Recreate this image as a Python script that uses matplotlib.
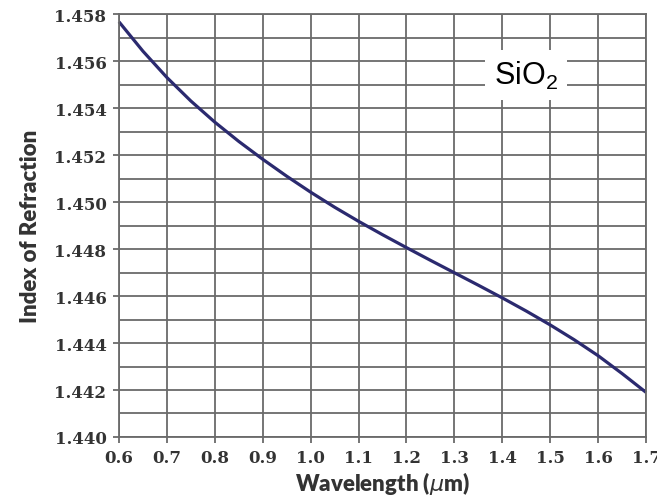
import matplotlib.pyplot as plt
import numpy as np

# wavelength (um) and refractive index of SiO2
wavelength = [0.60, 0.65, 0.70, 0.75, 0.80, 0.85, 0.90, 0.95, 1.00, 1.05, 1.10, 1.15,
              1.20, 1.25, 1.30, 1.35, 1.40, 1.45, 1.50, 1.55, 1.60, 1.65, 1.70]
index = [1.45767, 1.45642, 1.45530, 1.45430, 1.45340, 1.45258, 1.45182, 1.45110,
         1.45042, 1.44978, 1.44918, 1.44861, 1.44806, 1.44752, 1.44699, 1.44646,
         1.44592, 1.44536, 1.44477, 1.44414, 1.44346, 1.44270, 1.44190]

x_ticks = [0.6, 0.7, 0.8, 0.9, 1.0, 1.1, 1.2, 1.3, 1.4, 1.5, 1.6, 1.7]
y_ticks = [1.440, 1.442, 1.444, 1.446, 1.448, 1.450, 1.452, 1.454, 1.456, 1.458]

plt.rcParams['mathtext.default'] = 'regular'

fig = plt.figure(figsize=(6.57, 5.02), dpi=100)
ax = fig.add_axes([0.1811, 0.1275, 0.8022, 0.8425])

grid_col = '#6a6a6a'
ax.set_xlim(0.6, 1.7)
ax.set_ylim(1.440, 1.458)
ax.set_xticks(x_ticks)
ax.set_yticks(y_ticks)
ax.set_yticks(np.arange(1.441, 1.458, 0.002), minor=True)
ax.grid(True, which='both', color=grid_col, linewidth=1.3)
ax.tick_params(which='minor', left=False)
ax.set_axisbelow(True)
for s in ax.spines.values():
    s.set_color(grid_col)
    s.set_linewidth(1.3)

ax.plot(wavelength, index, color='#2b2a6f', linewidth=2.3, solid_capstyle='butt', clip_on=False)

ax.tick_params(axis='both', which='major', direction='out', color=grid_col, width=1.3, length=4,
               labelcolor='#333333', pad=5)
ax.set_xticklabels([f'{v:.1f}' for v in x_ticks])
ax.set_yticklabels([f'{v:.3f}' for v in y_ticks])
for lab in ax.get_xticklabels() + ax.get_yticklabels():
    lab.set_fontfamily('DejaVu Serif')
    lab.set_fontweight('bold')
    lab.set_fontsize(12)

ax.set_xlabel('Wavelength ($\\mathit{\\mu}$m)', family='Lato', weight='heavy', fontsize=16,
              color='#333333', labelpad=2)
ax.set_ylabel('Index of Refraction', family='Lato', weight='heavy', fontsize=16,
              color='#333333', labelpad=10)

ax.text(1.45, 1.4554, 'SiO$_2$', family='Liberation Sans', fontsize=22, color='black',
        ha='center', va='center',
        bbox=dict(boxstyle='square,pad=0.3', facecolor='white', edgecolor='none'))

fig.savefig('out.png', dpi=100)
